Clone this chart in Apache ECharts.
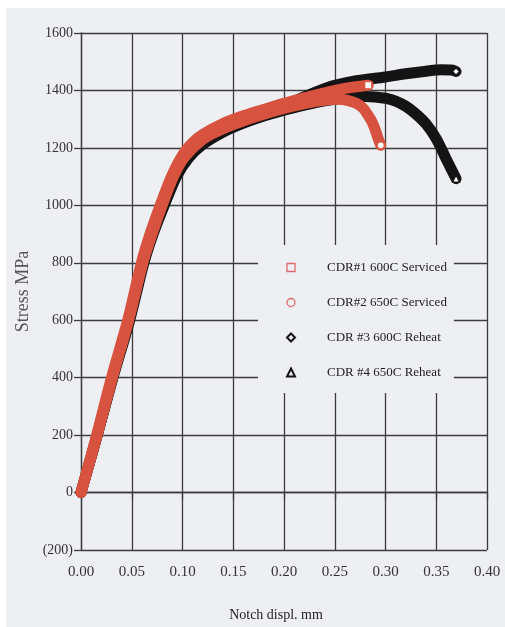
<!DOCTYPE html>
<html>
<head>
<meta charset="utf-8">
<script src="https://cdn.jsdelivr.net/npm/echarts@6/dist/echarts.min.js"></script>
<style>
  html, body { margin: 0; padding: 0; background: #ffffff; }
  #paper { position: absolute; left: 6px; top: 8px; width: 499px; height: 619px; background: #edeff3; }
  #chart { position: absolute; left: 0; top: 0; width: 505px; height: 627px; }
</style>
</head>
<body>
<div id="paper"></div>
<div id="chart"></div>
<script>
// Notch tensile curves: [notch displacement (mm), stress (MPa)]
const seriesNames = ['CDR#1 600C Serviced', 'CDR#2 650C Serviced', 'CDR #3 600C Reheat', 'CDR #4 650C Reheat'];

const cdr1 = [[0,0],[0.0154,200],[0.030,400],[0.046,600],[0.0595,800],[0.068,900],[0.078,1000],[0.089,1100],[0.10,1175],[0.11,1218],[0.12,1247],[0.14,1285],[0.16,1312],[0.18,1334],[0.20,1355],[0.22,1374],[0.24,1392],[0.26,1407],[0.283,1418]];

const cdr2 = [[0,0],[0.016,200],[0.031,400],[0.047,600],[0.061,800],[0.070,900],[0.080,1000],[0.091,1100],[0.102,1168],[0.12,1230],[0.14,1267],[0.16,1294],[0.18,1317],[0.20,1337],[0.22,1354],[0.24,1366],[0.255,1369],[0.265,1363],[0.272,1354],[0.278,1338],[0.282,1318],[0.2865,1292],[0.2897,1265],[0.2925,1235],[0.2953,1209]];

const cdr3 = [[0,0],[0.016,200],[0.031,400],[0.047,600],[0.061,800],[0.070,900],[0.081,1000],[0.093,1100],[0.105,1170],[0.12,1222],[0.14,1262],[0.16,1293],[0.18,1320],[0.20,1348],[0.22,1378],[0.24,1406],[0.25,1418],[0.27,1433],[0.30,1447],[0.32,1458],[0.34,1467],[0.355,1472],[0.365,1471],[0.3695,1466]];

const cdr4 = [[0,0],[0.016,200],[0.0315,400],[0.048,600],[0.062,800],[0.071,900],[0.082,1000],[0.094,1100],[0.106,1165],[0.12,1212],[0.14,1255],[0.16,1286],[0.18,1311],[0.20,1331],[0.22,1349],[0.24,1364],[0.26,1374],[0.28,1379],[0.30,1373],[0.31,1363],[0.32,1345],[0.33,1318],[0.34,1283],[0.35,1232],[0.36,1160],[0.3695,1093]];

// Axis ranges and tick steps
const xRange = [0, 0.4];
const xStep = 0.05;
const yRange = [-200, 1600];
const yStep = 200;

const RED = '#d7533f';
const BLACK = '#141414';
const LEGEND_RED = '#e06a6a';
const PAPER = '#edeff3';
const SERIF = '"Liberation Serif", "DejaVu Serif", serif';

const endSymbols = ['rect', 'circle', 'diamond', 'triangle'];
const lineColors = [RED, RED, BLACK, BLACK];
const legendColors = [LEGEND_RED, LEGEND_RED, BLACK, BLACK];
const curves = [cdr1, cdr2, cdr3, cdr4];

// Only the last point of each curve carries its marker
function withEndMarker(points, symbol) {
  return points.map((p, i) => i === points.length - 1
    ? { value: p, symbol: symbol, symbolSize: 7 }
    : { value: p, symbol: 'none' });
}

// Black curves first so the red ones sit on top
const drawOrder = [2, 3, 1, 0];
const series = drawOrder.map(k => ({
  name: seriesNames[k],
  type: 'line',
  data: withEndMarker(curves[k], endSymbols[k]),
  smooth: 0.3,
  showSymbol: true,
  showAllSymbol: true,
  symbolKeepAspect: true,
  z: k < 2 ? 3 : 2,
  lineStyle: { color: lineColors[k], width: 11, cap: 'round', join: 'round' },
  itemStyle: { color: '#ffffff', borderColor: lineColors[k], borderWidth: 1.2 },
  emphasis: { disabled: true },
  silent: true
}));

const gridLine = { color: '#3c3c3c', width: 1.3 };

const option = {
  backgroundColor: 'transparent',
  animation: false,
  grid: { left: 81, top: 33, right: 18, bottom: 74, containLabel: false },
  xAxis: {
    type: 'value',
    min: xRange[0], max: xRange[1], interval: xStep,
    name: 'Notch displ. mm',
    nameLocation: 'middle',
    nameGap: 58,
    nameTextStyle: { fontFamily: SERIF, fontSize: 14, color: '#222', padding: [0, 16, 0, 0] },
    axisLine: { lineStyle: gridLine },
    axisTick: { show: true, length: 7, lineStyle: gridLine },
    axisLabel: { fontFamily: SERIF, fontSize: 15, color: '#333', margin: 15,
      formatter: v => v.toFixed(2) },
    splitLine: { show: true, lineStyle: gridLine }
  },
  yAxis: {
    type: 'value',
    min: yRange[0], max: yRange[1], interval: yStep,
    name: 'Stress MPa',
    nameLocation: 'middle',
    nameGap: 46,
    nameRotate: 90,
    nameTextStyle: { fontFamily: SERIF, fontSize: 18, color: '#555' },
    axisLine: { lineStyle: gridLine },
    axisTick: { show: true, length: 7, lineStyle: gridLine },
    axisLabel: { fontFamily: SERIF, fontSize: 14, color: '#333', margin: 8,
      formatter: v => v < 0 ? '(' + (-v) + ')' : String(v) },
    splitLine: { show: true, lineStyle: gridLine }
  },
  legend: {
    orient: 'vertical',
    left: 258, top: 245,
    padding: [16, 7, 14, 28],
    itemWidth: 8, itemHeight: 8, itemGap: 22,
    backgroundColor: PAPER,
    selectedMode: false,
    textStyle: { fontFamily: SERIF, fontSize: 13, color: '#222', padding: [0, 0, 0, 27] },
    data: seriesNames.map((n, k) => ({
      name: n,
      icon: endSymbols[k],
      itemStyle: { color: PAPER, borderColor: legendColors[k], borderWidth: k < 2 ? 1.3 : 2 }
    }))
  },
  series: series
};

const chart = echarts.init(document.getElementById('chart'), null, { renderer: 'canvas' });
chart.setOption(option);
</script>
</body>
</html>
